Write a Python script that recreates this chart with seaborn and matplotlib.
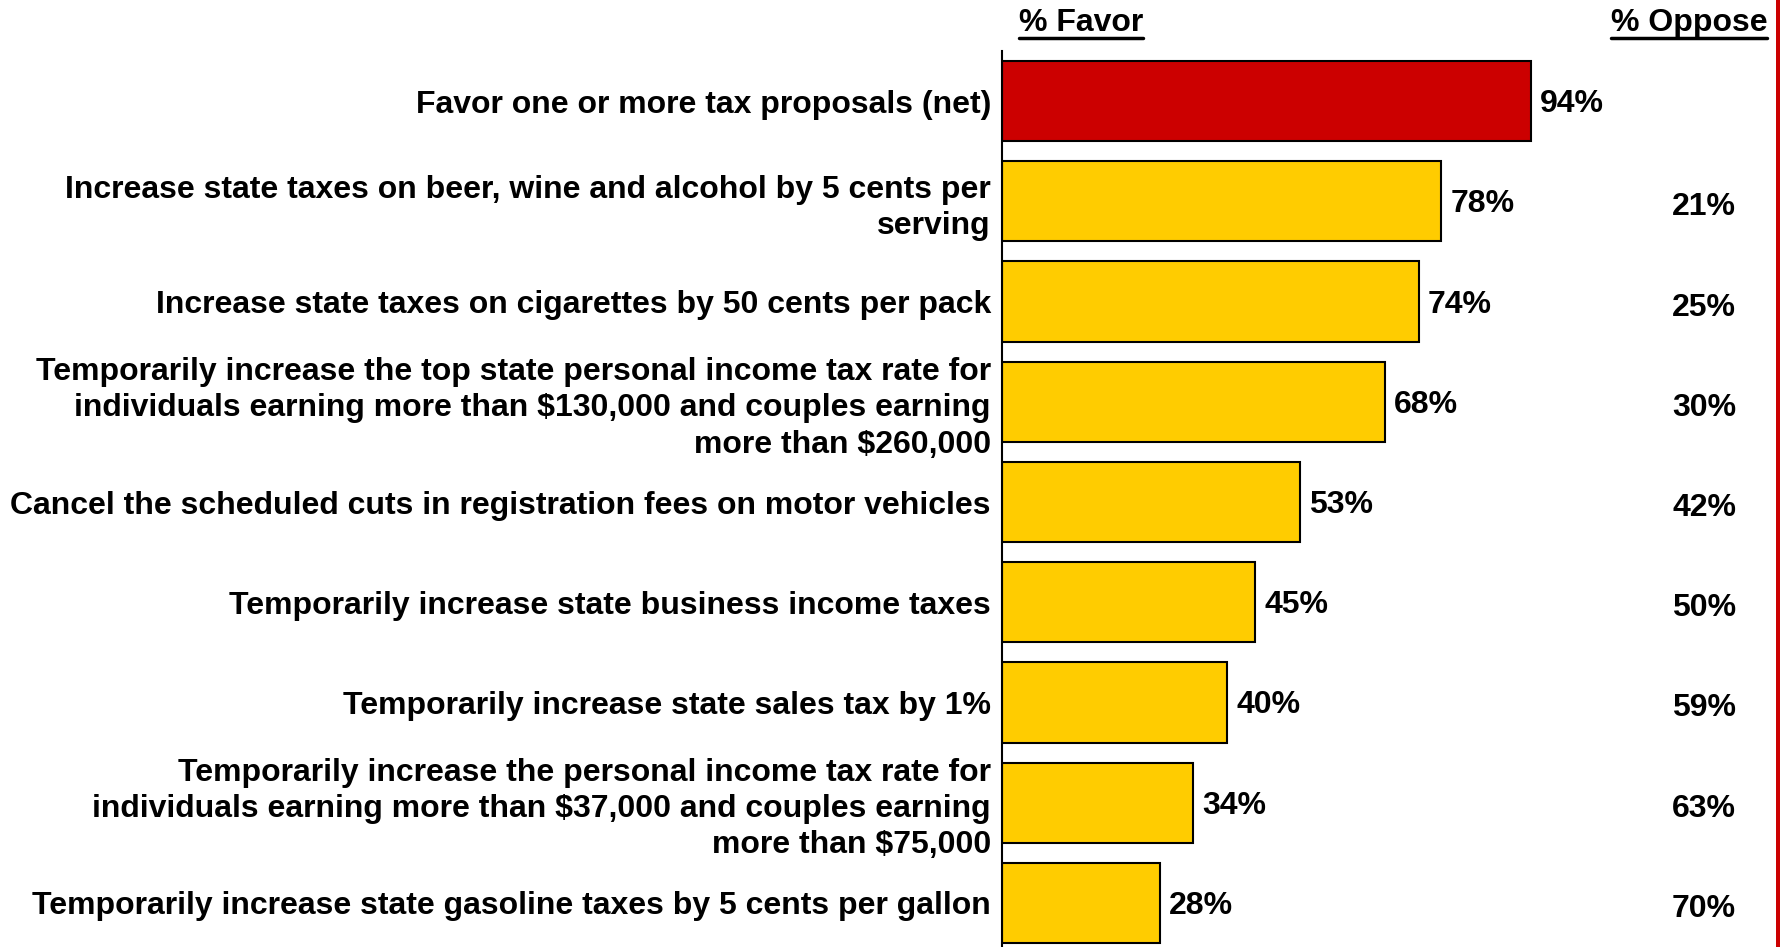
import matplotlib
matplotlib.use("Agg")
import matplotlib.pyplot as plt
from matplotlib.lines import Line2D
from matplotlib.patches import Rectangle
import seaborn as sns
import pandas as pd

# Survey items, top to bottom
items = [
    "Favor one or more tax proposals (net)",
    "Increase state taxes on beer, wine and alcohol by 5 cents per\nserving",
    "Increase state taxes on cigarettes by 50 cents per pack",
    "Temporarily increase the top state personal income tax rate for\nindividuals earning more than $130,000 and couples earning\nmore than $260,000",
    "Cancel the scheduled cuts in registration fees on motor vehicles",
    "Temporarily increase state business income taxes",
    "Temporarily increase state sales tax by 1%",
    "Temporarily increase the personal income tax rate for\nindividuals earning more than $37,000 and couples earning\nmore than $75,000",
    "Temporarily increase state gasoline taxes by 5 cents per gallon",
]
favor = [94, 78, 74, 68, 53, 45, 40, 34, 28]
oppose = [None, 21, 25, 30, 42, 50, 59, 63, 70]
group = ["net"] + ["item"] * 8

RED = "#CC0000"
GOLD = "#FFCC00"

sns.set_theme(style="white")
plt.rcParams["font.family"] = ["Liberation Sans Narrow", "Liberation Sans", "DejaVu Sans"]
plt.rcParams["font.weight"] = "bold"

W, H = 1781, 947
fig = plt.figure(figsize=(W / 100, H / 100), dpi=100)
ax = fig.add_axes([1002 / W, 0, (1776 - 1002) / W, 1 - 51 / H])

df = pd.DataFrame({"item": items, "favor": favor, "group": group})
sns.barplot(data=df, x="favor", y="item", hue="group",
            palette={"net": RED, "item": GOLD}, dodge=False, saturation=1,
            width=0.8, edgecolor="black", linewidth=1.5, legend=False, ax=ax)

ax.set_xlim(0, 774 / 5.63)
ax.set_ylim(8.44, -0.5)
ax.set_xlabel("")
ax.set_ylabel("")
ax.set_xticks([])
ax.tick_params(axis="y", length=0, pad=8)
for lab in ax.get_yticklabels():
    lab.set_fontsize(23)
    lab.set_fontweight("bold")
    lab.set_color("black")
    lab.set_multialignment("right")
    lab.set_linespacing(1.27)

for s in ["top", "right", "bottom"]:
    ax.spines[s].set_visible(False)
ax.spines["left"].set_color("black")
ax.spines["left"].set_linewidth(1.5)

# Favor values at bar ends, oppose values in the right column
for i, (f, o) in enumerate(zip(favor, oppose)):
    ax.text(f + 1.6, i + 0.03, f"{f}%", ha="left", va="center",
            fontsize=23, fontweight="bold", color="black")
    if o is not None:
        ax.text(124.7, i + 0.06, f"{o}%", ha="center", va="center",
                fontsize=23, fontweight="bold", color="black")

# Underlined column headers
headers = [("% Favor", 1081), ("% Oppose", 1689)]
fig.canvas.draw()
renderer = fig.canvas.get_renderer()
for txt, xc in headers:
    t = fig.text(xc / W, 1 - 23 / H, txt, ha="center", va="center",
                 fontsize=23, fontweight="bold", color="black")
    bb = t.get_window_extent(renderer=renderer)
    fig.add_artist(Line2D([bb.x0 / W, bb.x1 / W], [1 - 38 / H, 1 - 38 / H],
                          color="black", linewidth=2.5))

# Red rule along the right edge
fig.add_artist(Rectangle((1776 / W, 0), 5 / W, 1, transform=fig.transFigure,
                         facecolor=RED, edgecolor="none"))

fig.savefig("out.png", dpi=100, facecolor="white")
